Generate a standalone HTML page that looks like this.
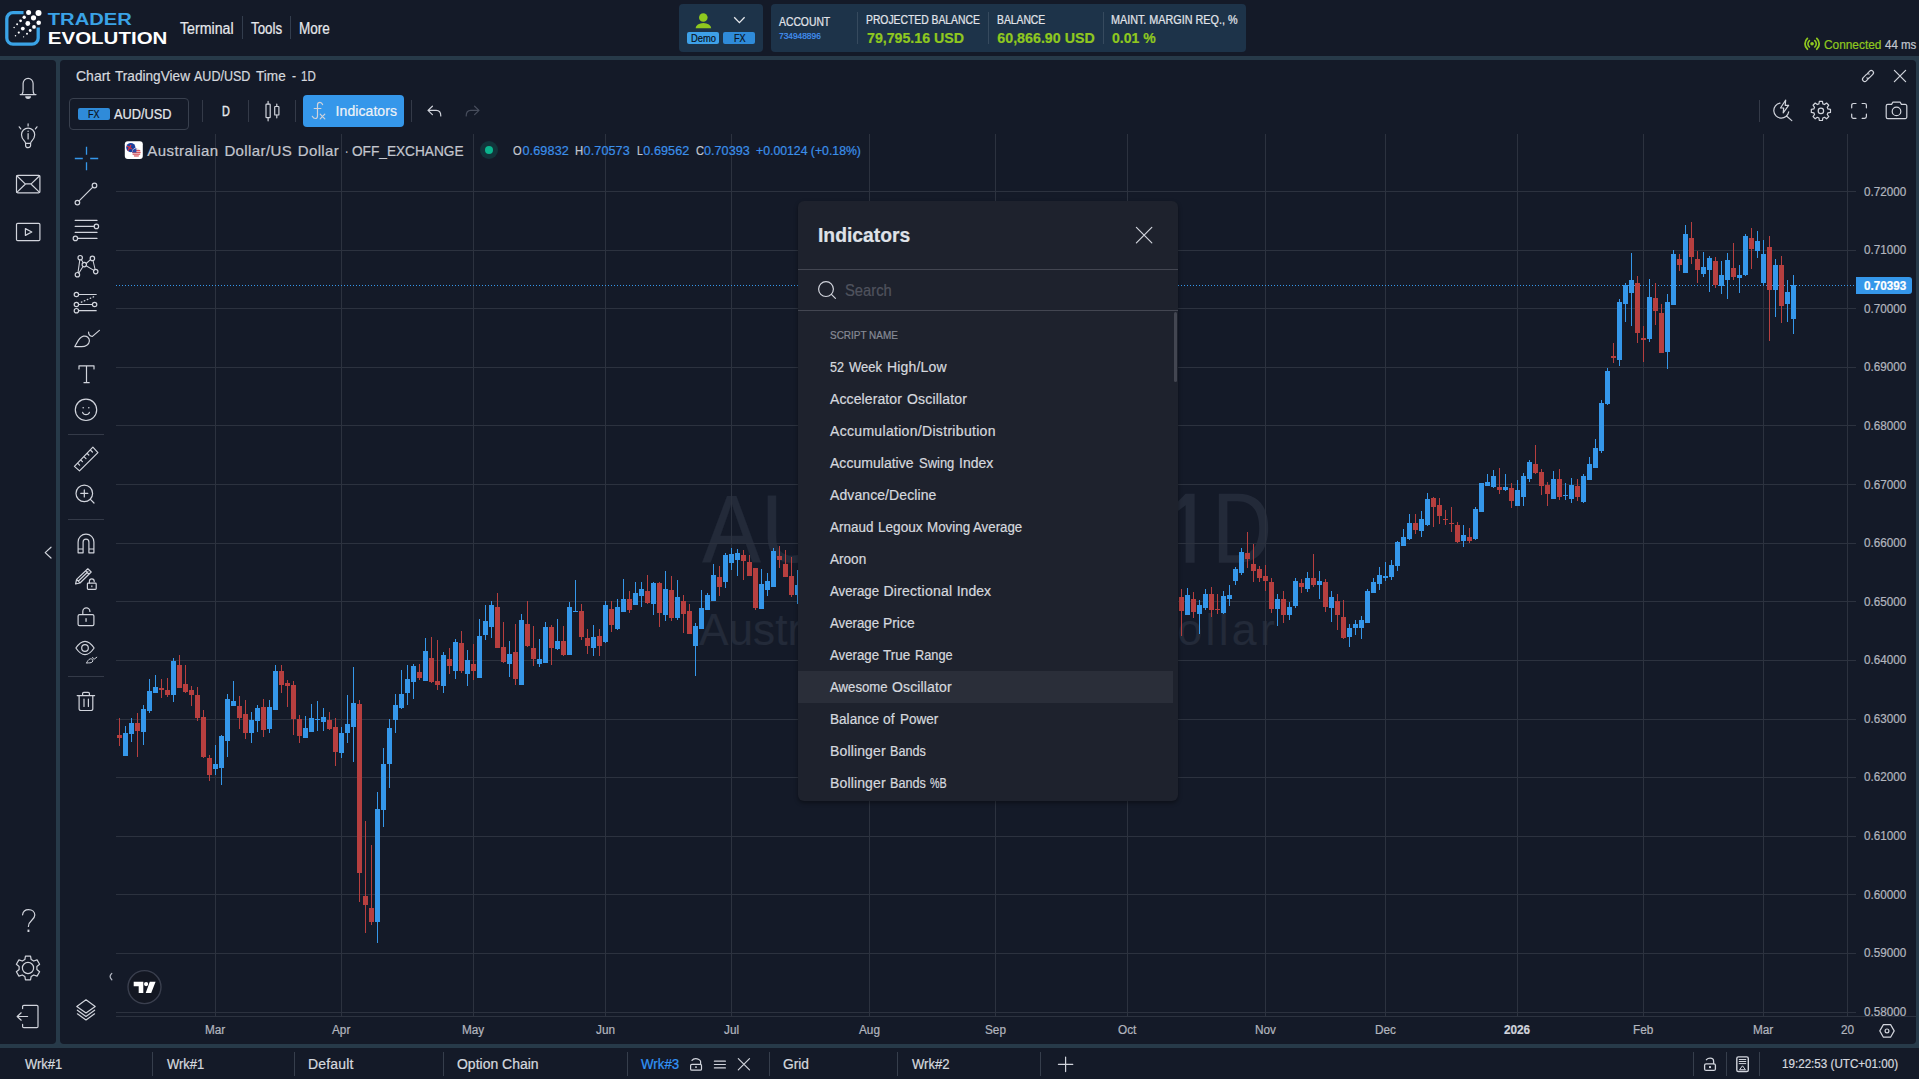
<!DOCTYPE html>
<html><head><meta charset="utf-8"><title>Trader Evolution</title>
<style>
html,body{margin:0;padding:0;background:#141a28;}
body{width:1919px;height:1079px;overflow:hidden;position:relative;font-family:"Liberation Sans",sans-serif;color:#d1d4dc;}
.abs{position:absolute;}
.t{position:absolute;white-space:nowrap;line-height:1;-webkit-text-stroke:0.22px currentColor;}
svg{position:absolute;overflow:visible;}
.ic{fill:none;stroke:#d1d4dc;stroke-width:1.2;stroke-linecap:round;stroke-linejoin:round;}
</style></head><body>
<div class="abs" style="left:0;top:56px;width:1919px;height:992px;background:#273a49"></div>
<div class="abs" style="left:0;top:60px;width:56px;height:984px;background:#141a28;border-radius:0 4px 4px 0"></div>
<div class="abs" style="left:60px;top:60px;width:1856px;height:984px;background:#141a28;border-radius:4px"></div>
<div class="t" style="left:701.5px;top:480.29px;font-size:97px;color:#232a39;transform:scaleX(0.9128);transform-origin:0 0;">AU</div><svg style="left:1170px;top:485px" width="110" height="90" viewBox="1170 485 110 90"><path d="M1185.6 493.7 H1194.6 V562.7 H1185.6 V505.2 L1176 512.6 V503.4 z" fill="#232a39"/><path fill-rule="evenodd" d="M1218.8 493.7 H1238 C1258 493.7 1268.2 506.4 1268.2 528 C1268.2 550 1258 562.7 1238 562.7 H1218.8 z M1227.4 501.2 V555.2 H1237.4 C1252 555.2 1259.2 545.4 1259.2 528 C1259.2 511 1252 501.2 1237.4 501.2 z" fill="#232a39"/></svg><div class="t" style="left:698.8px;top:608.33px;font-size:44.5px;color:#232a39;transform:scaleX(0.9930);transform-origin:0 0;">Austra</div><div class="t" style="left:1142.0px;top:608.33px;font-size:44.5px;color:#232a39;letter-spacing:3.296px;">Dollar</div>
<svg class="abs" style="left:0;top:0" width="1919" height="1079" viewBox="0 0 1919 1079" shape-rendering="crispEdges">
<rect x="116" y="191" width="1740" height="1" fill="#2c323f"/>
<rect x="116" y="250" width="1740" height="1" fill="#2c323f"/>
<rect x="116" y="308" width="1740" height="1" fill="#2c323f"/>
<rect x="116" y="367" width="1740" height="1" fill="#2c323f"/>
<rect x="116" y="425" width="1740" height="1" fill="#2c323f"/>
<rect x="116" y="484" width="1740" height="1" fill="#2c323f"/>
<rect x="116" y="543" width="1740" height="1" fill="#2c323f"/>
<rect x="116" y="601" width="1740" height="1" fill="#2c323f"/>
<rect x="116" y="660" width="1740" height="1" fill="#2c323f"/>
<rect x="116" y="719" width="1740" height="1" fill="#2c323f"/>
<rect x="116" y="777" width="1740" height="1" fill="#2c323f"/>
<rect x="116" y="836" width="1740" height="1" fill="#2c323f"/>
<rect x="116" y="894" width="1740" height="1" fill="#2c323f"/>
<rect x="116" y="953" width="1740" height="1" fill="#2c323f"/>
<rect x="116" y="1012" width="1740" height="1" fill="#2c323f"/>
<rect x="215" y="134" width="1" height="882" fill="#2c323f"/>
<rect x="341" y="134" width="1" height="882" fill="#2c323f"/>
<rect x="473" y="134" width="1" height="882" fill="#2c323f"/>
<rect x="605" y="134" width="1" height="882" fill="#2c323f"/>
<rect x="731" y="134" width="1" height="882" fill="#2c323f"/>
<rect x="869" y="134" width="1" height="882" fill="#2c323f"/>
<rect x="995" y="134" width="1" height="882" fill="#2c323f"/>
<rect x="1127" y="134" width="1" height="882" fill="#2c323f"/>
<rect x="1265" y="134" width="1" height="882" fill="#2c323f"/>
<rect x="1385" y="134" width="1" height="882" fill="#2c323f"/>
<rect x="1517" y="134" width="1" height="882" fill="#2c323f"/>
<rect x="1643" y="134" width="1" height="882" fill="#2c323f"/>
<rect x="1763" y="134" width="1" height="882" fill="#2c323f"/>
<rect x="1847" y="134" width="1" height="882" fill="#2c323f"/>
<rect x="116" y="1016" width="1800" height="1" fill="#2c323f"/>
<line x1="116" y1="285.5" x2="1856" y2="285.5" stroke="#3597ea" stroke-width="1" stroke-dasharray="1 2"/>
<rect x="119" y="718" width="1" height="28" fill="#b63f3f"/>
<rect x="117" y="735" width="5" height="3" fill="#b63f3f"/>
<rect x="125" y="726" width="1" height="30" fill="#3597ea"/>
<rect x="123" y="733" width="5" height="23" fill="#3597ea"/>
<rect x="131" y="718" width="1" height="24" fill="#3597ea"/>
<rect x="129" y="723" width="5" height="11" fill="#3597ea"/>
<rect x="137" y="713" width="1" height="44" fill="#b63f3f"/>
<rect x="135" y="723" width="5" height="8" fill="#b63f3f"/>
<rect x="143" y="705" width="1" height="40" fill="#3597ea"/>
<rect x="141" y="709" width="5" height="23" fill="#3597ea"/>
<rect x="149" y="679" width="1" height="34" fill="#3597ea"/>
<rect x="147" y="691" width="5" height="20" fill="#3597ea"/>
<rect x="155" y="675" width="1" height="18" fill="#3597ea"/>
<rect x="153" y="687" width="5" height="6" fill="#3597ea"/>
<rect x="161" y="679" width="1" height="19" fill="#b63f3f"/>
<rect x="159" y="688" width="5" height="2" fill="#b63f3f"/>
<rect x="167" y="678" width="1" height="19" fill="#b63f3f"/>
<rect x="165" y="690" width="5" height="5" fill="#b63f3f"/>
<rect x="173" y="658" width="1" height="44" fill="#3597ea"/>
<rect x="171" y="661" width="5" height="34" fill="#3597ea"/>
<rect x="179" y="655" width="1" height="33" fill="#b63f3f"/>
<rect x="177" y="665" width="5" height="23" fill="#b63f3f"/>
<rect x="185" y="665" width="1" height="28" fill="#b63f3f"/>
<rect x="183" y="684" width="5" height="8" fill="#b63f3f"/>
<rect x="191" y="686" width="1" height="20" fill="#b63f3f"/>
<rect x="189" y="690" width="5" height="5" fill="#b63f3f"/>
<rect x="197" y="687" width="1" height="34" fill="#b63f3f"/>
<rect x="195" y="695" width="5" height="23" fill="#b63f3f"/>
<rect x="203" y="710" width="1" height="48" fill="#b63f3f"/>
<rect x="201" y="717" width="5" height="40" fill="#b63f3f"/>
<rect x="209" y="755" width="1" height="26" fill="#b63f3f"/>
<rect x="207" y="758" width="5" height="17" fill="#b63f3f"/>
<rect x="215" y="745" width="1" height="30" fill="#3597ea"/>
<rect x="213" y="764" width="5" height="5" fill="#3597ea"/>
<rect x="221" y="735" width="1" height="50" fill="#3597ea"/>
<rect x="219" y="736" width="5" height="32" fill="#3597ea"/>
<rect x="227" y="694" width="1" height="63" fill="#3597ea"/>
<rect x="225" y="699" width="5" height="42" fill="#3597ea"/>
<rect x="233" y="681" width="1" height="25" fill="#3597ea"/>
<rect x="231" y="701" width="5" height="5" fill="#3597ea"/>
<rect x="239" y="696" width="1" height="33" fill="#b63f3f"/>
<rect x="237" y="706" width="5" height="12" fill="#b63f3f"/>
<rect x="245" y="700" width="1" height="39" fill="#b63f3f"/>
<rect x="243" y="714" width="5" height="19" fill="#b63f3f"/>
<rect x="251" y="712" width="1" height="31" fill="#3597ea"/>
<rect x="249" y="720" width="5" height="13" fill="#3597ea"/>
<rect x="257" y="705" width="1" height="27" fill="#3597ea"/>
<rect x="255" y="708" width="5" height="13" fill="#3597ea"/>
<rect x="263" y="699" width="1" height="38" fill="#b63f3f"/>
<rect x="261" y="707" width="5" height="23" fill="#b63f3f"/>
<rect x="269" y="700" width="1" height="33" fill="#3597ea"/>
<rect x="267" y="707" width="5" height="22" fill="#3597ea"/>
<rect x="275" y="665" width="1" height="45" fill="#3597ea"/>
<rect x="273" y="671" width="5" height="39" fill="#3597ea"/>
<rect x="281" y="665" width="1" height="28" fill="#b63f3f"/>
<rect x="279" y="671" width="5" height="14" fill="#b63f3f"/>
<rect x="287" y="680" width="1" height="27" fill="#b63f3f"/>
<rect x="285" y="683" width="5" height="3" fill="#b63f3f"/>
<rect x="293" y="681" width="1" height="54" fill="#b63f3f"/>
<rect x="291" y="685" width="5" height="34" fill="#b63f3f"/>
<rect x="299" y="715" width="1" height="28" fill="#b63f3f"/>
<rect x="297" y="719" width="5" height="17" fill="#b63f3f"/>
<rect x="305" y="716" width="1" height="22" fill="#3597ea"/>
<rect x="303" y="728" width="5" height="10" fill="#3597ea"/>
<rect x="311" y="704" width="1" height="28" fill="#3597ea"/>
<rect x="309" y="718" width="5" height="14" fill="#3597ea"/>
<rect x="317" y="701" width="1" height="30" fill="#3597ea"/>
<rect x="315" y="719" width="5" height="1" fill="#3597ea"/>
<rect x="323" y="708" width="1" height="23" fill="#3597ea"/>
<rect x="321" y="717" width="5" height="5" fill="#3597ea"/>
<rect x="329" y="712" width="1" height="18" fill="#b63f3f"/>
<rect x="327" y="720" width="5" height="9" fill="#b63f3f"/>
<rect x="335" y="718" width="1" height="48" fill="#b63f3f"/>
<rect x="333" y="727" width="5" height="25" fill="#b63f3f"/>
<rect x="341" y="727" width="1" height="31" fill="#3597ea"/>
<rect x="339" y="733" width="5" height="20" fill="#3597ea"/>
<rect x="347" y="695" width="1" height="48" fill="#3597ea"/>
<rect x="345" y="724" width="5" height="9" fill="#3597ea"/>
<rect x="353" y="667" width="1" height="95" fill="#3597ea"/>
<rect x="351" y="703" width="5" height="24" fill="#3597ea"/>
<rect x="359" y="700" width="1" height="202" fill="#b63f3f"/>
<rect x="357" y="704" width="5" height="169" fill="#b63f3f"/>
<rect x="365" y="821" width="1" height="112" fill="#b63f3f"/>
<rect x="363" y="896" width="5" height="9" fill="#b63f3f"/>
<rect x="371" y="845" width="1" height="80" fill="#b63f3f"/>
<rect x="369" y="908" width="5" height="14" fill="#b63f3f"/>
<rect x="377" y="792" width="1" height="151" fill="#3597ea"/>
<rect x="375" y="809" width="5" height="113" fill="#3597ea"/>
<rect x="383" y="748" width="1" height="79" fill="#3597ea"/>
<rect x="381" y="764" width="5" height="46" fill="#3597ea"/>
<rect x="389" y="719" width="1" height="69" fill="#3597ea"/>
<rect x="387" y="728" width="5" height="36" fill="#3597ea"/>
<rect x="395" y="694" width="1" height="39" fill="#3597ea"/>
<rect x="393" y="705" width="5" height="15" fill="#3597ea"/>
<rect x="401" y="670" width="1" height="39" fill="#3597ea"/>
<rect x="399" y="694" width="5" height="14" fill="#3597ea"/>
<rect x="407" y="665" width="1" height="40" fill="#3597ea"/>
<rect x="405" y="679" width="5" height="14" fill="#3597ea"/>
<rect x="413" y="664" width="1" height="35" fill="#3597ea"/>
<rect x="411" y="666" width="5" height="16" fill="#3597ea"/>
<rect x="419" y="664" width="1" height="16" fill="#b63f3f"/>
<rect x="417" y="672" width="5" height="6" fill="#b63f3f"/>
<rect x="425" y="638" width="1" height="43" fill="#3597ea"/>
<rect x="423" y="651" width="5" height="30" fill="#3597ea"/>
<rect x="431" y="637" width="1" height="46" fill="#b63f3f"/>
<rect x="429" y="658" width="5" height="24" fill="#b63f3f"/>
<rect x="437" y="640" width="1" height="50" fill="#b63f3f"/>
<rect x="435" y="681" width="5" height="4" fill="#b63f3f"/>
<rect x="443" y="652" width="1" height="41" fill="#3597ea"/>
<rect x="441" y="655" width="5" height="31" fill="#3597ea"/>
<rect x="449" y="648" width="1" height="26" fill="#b63f3f"/>
<rect x="447" y="659" width="5" height="7" fill="#b63f3f"/>
<rect x="455" y="639" width="1" height="40" fill="#3597ea"/>
<rect x="453" y="642" width="5" height="29" fill="#3597ea"/>
<rect x="461" y="631" width="1" height="42" fill="#b63f3f"/>
<rect x="459" y="643" width="5" height="28" fill="#b63f3f"/>
<rect x="467" y="650" width="1" height="36" fill="#3597ea"/>
<rect x="465" y="660" width="5" height="14" fill="#3597ea"/>
<rect x="473" y="644" width="1" height="36" fill="#b63f3f"/>
<rect x="471" y="664" width="5" height="7" fill="#b63f3f"/>
<rect x="479" y="619" width="1" height="59" fill="#3597ea"/>
<rect x="477" y="636" width="5" height="42" fill="#3597ea"/>
<rect x="485" y="605" width="1" height="35" fill="#3597ea"/>
<rect x="483" y="621" width="5" height="14" fill="#3597ea"/>
<rect x="491" y="601" width="1" height="37" fill="#3597ea"/>
<rect x="489" y="605" width="5" height="22" fill="#3597ea"/>
<rect x="497" y="593" width="1" height="55" fill="#b63f3f"/>
<rect x="495" y="607" width="5" height="41" fill="#b63f3f"/>
<rect x="503" y="622" width="1" height="41" fill="#b63f3f"/>
<rect x="501" y="647" width="5" height="15" fill="#b63f3f"/>
<rect x="509" y="641" width="1" height="36" fill="#3597ea"/>
<rect x="507" y="654" width="5" height="10" fill="#3597ea"/>
<rect x="515" y="624" width="1" height="61" fill="#b63f3f"/>
<rect x="513" y="652" width="5" height="27" fill="#b63f3f"/>
<rect x="521" y="614" width="1" height="71" fill="#3597ea"/>
<rect x="519" y="620" width="5" height="65" fill="#3597ea"/>
<rect x="527" y="601" width="1" height="46" fill="#b63f3f"/>
<rect x="525" y="624" width="5" height="22" fill="#b63f3f"/>
<rect x="533" y="626" width="1" height="40" fill="#b63f3f"/>
<rect x="531" y="648" width="5" height="11" fill="#b63f3f"/>
<rect x="539" y="639" width="1" height="28" fill="#3597ea"/>
<rect x="537" y="659" width="5" height="5" fill="#3597ea"/>
<rect x="545" y="622" width="1" height="41" fill="#3597ea"/>
<rect x="543" y="627" width="5" height="36" fill="#3597ea"/>
<rect x="551" y="625" width="1" height="40" fill="#b63f3f"/>
<rect x="549" y="627" width="5" height="21" fill="#b63f3f"/>
<rect x="557" y="619" width="1" height="31" fill="#3597ea"/>
<rect x="555" y="641" width="5" height="8" fill="#3597ea"/>
<rect x="563" y="626" width="1" height="30" fill="#b63f3f"/>
<rect x="561" y="641" width="5" height="14" fill="#b63f3f"/>
<rect x="569" y="602" width="1" height="53" fill="#3597ea"/>
<rect x="567" y="607" width="5" height="48" fill="#3597ea"/>
<rect x="575" y="580" width="1" height="32" fill="#3597ea"/>
<rect x="573" y="611" width="5" height="1" fill="#3597ea"/>
<rect x="581" y="604" width="1" height="36" fill="#b63f3f"/>
<rect x="579" y="611" width="5" height="26" fill="#b63f3f"/>
<rect x="587" y="629" width="1" height="25" fill="#b63f3f"/>
<rect x="585" y="638" width="5" height="8" fill="#b63f3f"/>
<rect x="593" y="625" width="1" height="31" fill="#3597ea"/>
<rect x="591" y="637" width="5" height="11" fill="#3597ea"/>
<rect x="599" y="629" width="1" height="27" fill="#b63f3f"/>
<rect x="597" y="636" width="5" height="10" fill="#b63f3f"/>
<rect x="605" y="601" width="1" height="42" fill="#3597ea"/>
<rect x="603" y="605" width="5" height="37" fill="#3597ea"/>
<rect x="611" y="601" width="1" height="31" fill="#b63f3f"/>
<rect x="609" y="609" width="5" height="16" fill="#b63f3f"/>
<rect x="617" y="599" width="1" height="31" fill="#3597ea"/>
<rect x="615" y="607" width="5" height="22" fill="#3597ea"/>
<rect x="623" y="579" width="1" height="33" fill="#3597ea"/>
<rect x="621" y="599" width="5" height="13" fill="#3597ea"/>
<rect x="629" y="591" width="1" height="22" fill="#b63f3f"/>
<rect x="627" y="599" width="5" height="11" fill="#b63f3f"/>
<rect x="635" y="582" width="1" height="23" fill="#3597ea"/>
<rect x="633" y="593" width="5" height="12" fill="#3597ea"/>
<rect x="641" y="582" width="1" height="25" fill="#3597ea"/>
<rect x="639" y="589" width="5" height="7" fill="#3597ea"/>
<rect x="647" y="575" width="1" height="29" fill="#b63f3f"/>
<rect x="645" y="591" width="5" height="12" fill="#b63f3f"/>
<rect x="653" y="582" width="1" height="33" fill="#3597ea"/>
<rect x="651" y="583" width="5" height="21" fill="#3597ea"/>
<rect x="659" y="582" width="1" height="45" fill="#b63f3f"/>
<rect x="657" y="583" width="5" height="30" fill="#b63f3f"/>
<rect x="665" y="571" width="1" height="50" fill="#3597ea"/>
<rect x="663" y="589" width="5" height="26" fill="#3597ea"/>
<rect x="671" y="576" width="1" height="45" fill="#b63f3f"/>
<rect x="669" y="590" width="5" height="28" fill="#b63f3f"/>
<rect x="677" y="580" width="1" height="40" fill="#3597ea"/>
<rect x="675" y="597" width="5" height="21" fill="#3597ea"/>
<rect x="683" y="595" width="1" height="38" fill="#b63f3f"/>
<rect x="681" y="601" width="5" height="13" fill="#b63f3f"/>
<rect x="689" y="604" width="1" height="30" fill="#b63f3f"/>
<rect x="687" y="611" width="5" height="23" fill="#b63f3f"/>
<rect x="695" y="623" width="1" height="53" fill="#3597ea"/>
<rect x="693" y="626" width="5" height="20" fill="#3597ea"/>
<rect x="701" y="590" width="1" height="39" fill="#3597ea"/>
<rect x="699" y="608" width="5" height="21" fill="#3597ea"/>
<rect x="707" y="593" width="1" height="17" fill="#3597ea"/>
<rect x="705" y="595" width="5" height="15" fill="#3597ea"/>
<rect x="713" y="564" width="1" height="37" fill="#3597ea"/>
<rect x="711" y="575" width="5" height="26" fill="#3597ea"/>
<rect x="719" y="566" width="1" height="30" fill="#b63f3f"/>
<rect x="717" y="577" width="5" height="10" fill="#b63f3f"/>
<rect x="725" y="553" width="1" height="35" fill="#3597ea"/>
<rect x="723" y="555" width="5" height="27" fill="#3597ea"/>
<rect x="731" y="548" width="1" height="22" fill="#3597ea"/>
<rect x="729" y="554" width="5" height="9" fill="#3597ea"/>
<rect x="737" y="549" width="1" height="27" fill="#3597ea"/>
<rect x="735" y="553" width="5" height="7" fill="#3597ea"/>
<rect x="743" y="550" width="1" height="30" fill="#b63f3f"/>
<rect x="741" y="555" width="5" height="6" fill="#b63f3f"/>
<rect x="749" y="555" width="1" height="21" fill="#b63f3f"/>
<rect x="747" y="562" width="5" height="14" fill="#b63f3f"/>
<rect x="755" y="568" width="1" height="42" fill="#b63f3f"/>
<rect x="753" y="568" width="5" height="40" fill="#b63f3f"/>
<rect x="761" y="569" width="1" height="40" fill="#3597ea"/>
<rect x="759" y="584" width="5" height="25" fill="#3597ea"/>
<rect x="767" y="573" width="1" height="23" fill="#3597ea"/>
<rect x="765" y="581" width="5" height="9" fill="#3597ea"/>
<rect x="773" y="548" width="1" height="39" fill="#3597ea"/>
<rect x="771" y="551" width="5" height="36" fill="#3597ea"/>
<rect x="779" y="546" width="1" height="22" fill="#b63f3f"/>
<rect x="777" y="556" width="5" height="4" fill="#b63f3f"/>
<rect x="785" y="550" width="1" height="27" fill="#b63f3f"/>
<rect x="783" y="564" width="5" height="13" fill="#b63f3f"/>
<rect x="791" y="557" width="1" height="40" fill="#b63f3f"/>
<rect x="789" y="576" width="5" height="19" fill="#b63f3f"/>
<rect x="797" y="570" width="1" height="34" fill="#3597ea"/>
<rect x="795" y="585" width="5" height="10" fill="#3597ea"/>
<rect x="1181" y="589" width="1" height="47" fill="#b63f3f"/>
<rect x="1179" y="597" width="5" height="14" fill="#b63f3f"/>
<rect x="1187" y="588" width="1" height="27" fill="#3597ea"/>
<rect x="1185" y="595" width="5" height="20" fill="#3597ea"/>
<rect x="1193" y="592" width="1" height="26" fill="#b63f3f"/>
<rect x="1191" y="599" width="5" height="13" fill="#b63f3f"/>
<rect x="1199" y="600" width="1" height="34" fill="#3597ea"/>
<rect x="1197" y="605" width="5" height="9" fill="#3597ea"/>
<rect x="1205" y="589" width="1" height="21" fill="#3597ea"/>
<rect x="1203" y="594" width="5" height="14" fill="#3597ea"/>
<rect x="1211" y="587" width="1" height="30" fill="#b63f3f"/>
<rect x="1209" y="594" width="5" height="16" fill="#b63f3f"/>
<rect x="1217" y="594" width="1" height="20" fill="#b63f3f"/>
<rect x="1215" y="609" width="5" height="1" fill="#b63f3f"/>
<rect x="1223" y="591" width="1" height="23" fill="#3597ea"/>
<rect x="1221" y="596" width="5" height="17" fill="#3597ea"/>
<rect x="1229" y="585" width="1" height="21" fill="#3597ea"/>
<rect x="1227" y="595" width="5" height="4" fill="#3597ea"/>
<rect x="1235" y="567" width="1" height="18" fill="#3597ea"/>
<rect x="1233" y="569" width="5" height="12" fill="#3597ea"/>
<rect x="1241" y="548" width="1" height="27" fill="#3597ea"/>
<rect x="1239" y="552" width="5" height="21" fill="#3597ea"/>
<rect x="1247" y="532" width="1" height="36" fill="#b63f3f"/>
<rect x="1245" y="553" width="5" height="6" fill="#b63f3f"/>
<rect x="1253" y="544" width="1" height="38" fill="#b63f3f"/>
<rect x="1251" y="564" width="5" height="7" fill="#b63f3f"/>
<rect x="1259" y="566" width="1" height="16" fill="#b63f3f"/>
<rect x="1257" y="569" width="5" height="9" fill="#b63f3f"/>
<rect x="1265" y="565" width="1" height="26" fill="#b63f3f"/>
<rect x="1263" y="576" width="5" height="5" fill="#b63f3f"/>
<rect x="1271" y="578" width="1" height="35" fill="#b63f3f"/>
<rect x="1269" y="582" width="5" height="27" fill="#b63f3f"/>
<rect x="1277" y="594" width="1" height="32" fill="#3597ea"/>
<rect x="1275" y="599" width="5" height="10" fill="#3597ea"/>
<rect x="1283" y="591" width="1" height="32" fill="#b63f3f"/>
<rect x="1281" y="599" width="5" height="16" fill="#b63f3f"/>
<rect x="1289" y="602" width="1" height="18" fill="#3597ea"/>
<rect x="1287" y="607" width="5" height="8" fill="#3597ea"/>
<rect x="1295" y="578" width="1" height="30" fill="#3597ea"/>
<rect x="1293" y="581" width="5" height="25" fill="#3597ea"/>
<rect x="1301" y="579" width="1" height="14" fill="#b63f3f"/>
<rect x="1299" y="583" width="5" height="4" fill="#b63f3f"/>
<rect x="1307" y="572" width="1" height="20" fill="#3597ea"/>
<rect x="1305" y="578" width="5" height="11" fill="#3597ea"/>
<rect x="1313" y="554" width="1" height="33" fill="#b63f3f"/>
<rect x="1311" y="578" width="5" height="7" fill="#b63f3f"/>
<rect x="1319" y="571" width="1" height="28" fill="#3597ea"/>
<rect x="1317" y="581" width="5" height="4" fill="#3597ea"/>
<rect x="1325" y="579" width="1" height="33" fill="#b63f3f"/>
<rect x="1323" y="582" width="5" height="25" fill="#b63f3f"/>
<rect x="1331" y="591" width="1" height="31" fill="#3597ea"/>
<rect x="1329" y="597" width="5" height="11" fill="#3597ea"/>
<rect x="1337" y="594" width="1" height="36" fill="#b63f3f"/>
<rect x="1335" y="601" width="5" height="14" fill="#b63f3f"/>
<rect x="1343" y="600" width="1" height="39" fill="#b63f3f"/>
<rect x="1341" y="617" width="5" height="21" fill="#b63f3f"/>
<rect x="1349" y="624" width="1" height="23" fill="#3597ea"/>
<rect x="1347" y="628" width="5" height="9" fill="#3597ea"/>
<rect x="1355" y="620" width="1" height="15" fill="#3597ea"/>
<rect x="1353" y="624" width="5" height="4" fill="#3597ea"/>
<rect x="1361" y="616" width="1" height="23" fill="#3597ea"/>
<rect x="1359" y="620" width="5" height="8" fill="#3597ea"/>
<rect x="1367" y="589" width="1" height="34" fill="#3597ea"/>
<rect x="1365" y="591" width="5" height="32" fill="#3597ea"/>
<rect x="1373" y="578" width="1" height="15" fill="#3597ea"/>
<rect x="1371" y="582" width="5" height="11" fill="#3597ea"/>
<rect x="1379" y="567" width="1" height="23" fill="#3597ea"/>
<rect x="1377" y="575" width="5" height="9" fill="#3597ea"/>
<rect x="1385" y="562" width="1" height="19" fill="#3597ea"/>
<rect x="1383" y="576" width="5" height="2" fill="#3597ea"/>
<rect x="1391" y="560" width="1" height="20" fill="#3597ea"/>
<rect x="1389" y="565" width="5" height="12" fill="#3597ea"/>
<rect x="1397" y="541" width="1" height="30" fill="#3597ea"/>
<rect x="1395" y="542" width="5" height="24" fill="#3597ea"/>
<rect x="1403" y="529" width="1" height="17" fill="#3597ea"/>
<rect x="1401" y="537" width="5" height="9" fill="#3597ea"/>
<rect x="1409" y="514" width="1" height="26" fill="#3597ea"/>
<rect x="1407" y="523" width="5" height="16" fill="#3597ea"/>
<rect x="1415" y="514" width="1" height="20" fill="#b63f3f"/>
<rect x="1413" y="523" width="5" height="7" fill="#b63f3f"/>
<rect x="1421" y="511" width="1" height="26" fill="#3597ea"/>
<rect x="1419" y="519" width="5" height="12" fill="#3597ea"/>
<rect x="1427" y="493" width="1" height="33" fill="#3597ea"/>
<rect x="1425" y="499" width="5" height="26" fill="#3597ea"/>
<rect x="1433" y="497" width="1" height="30" fill="#b63f3f"/>
<rect x="1431" y="498" width="5" height="9" fill="#b63f3f"/>
<rect x="1439" y="498" width="1" height="26" fill="#b63f3f"/>
<rect x="1437" y="505" width="5" height="11" fill="#b63f3f"/>
<rect x="1445" y="510" width="1" height="15" fill="#b63f3f"/>
<rect x="1443" y="519" width="5" height="1" fill="#b63f3f"/>
<rect x="1451" y="507" width="1" height="25" fill="#b63f3f"/>
<rect x="1449" y="523" width="5" height="1" fill="#b63f3f"/>
<rect x="1457" y="522" width="1" height="21" fill="#b63f3f"/>
<rect x="1455" y="525" width="5" height="17" fill="#b63f3f"/>
<rect x="1463" y="525" width="1" height="22" fill="#3597ea"/>
<rect x="1461" y="535" width="5" height="6" fill="#3597ea"/>
<rect x="1469" y="528" width="1" height="15" fill="#b63f3f"/>
<rect x="1467" y="537" width="5" height="4" fill="#b63f3f"/>
<rect x="1475" y="507" width="1" height="33" fill="#3597ea"/>
<rect x="1473" y="509" width="5" height="30" fill="#3597ea"/>
<rect x="1481" y="483" width="1" height="29" fill="#3597ea"/>
<rect x="1479" y="483" width="5" height="29" fill="#3597ea"/>
<rect x="1487" y="474" width="1" height="12" fill="#3597ea"/>
<rect x="1485" y="482" width="5" height="4" fill="#3597ea"/>
<rect x="1493" y="470" width="1" height="18" fill="#3597ea"/>
<rect x="1491" y="476" width="5" height="11" fill="#3597ea"/>
<rect x="1499" y="468" width="1" height="26" fill="#b63f3f"/>
<rect x="1497" y="487" width="5" height="3" fill="#b63f3f"/>
<rect x="1505" y="474" width="1" height="17" fill="#3597ea"/>
<rect x="1503" y="487" width="5" height="3" fill="#3597ea"/>
<rect x="1511" y="483" width="1" height="25" fill="#b63f3f"/>
<rect x="1509" y="488" width="5" height="13" fill="#b63f3f"/>
<rect x="1517" y="480" width="1" height="26" fill="#3597ea"/>
<rect x="1515" y="490" width="5" height="16" fill="#3597ea"/>
<rect x="1523" y="473" width="1" height="33" fill="#3597ea"/>
<rect x="1521" y="476" width="5" height="21" fill="#3597ea"/>
<rect x="1529" y="460" width="1" height="22" fill="#3597ea"/>
<rect x="1527" y="462" width="5" height="17" fill="#3597ea"/>
<rect x="1535" y="445" width="1" height="29" fill="#b63f3f"/>
<rect x="1533" y="464" width="5" height="9" fill="#b63f3f"/>
<rect x="1541" y="469" width="1" height="26" fill="#b63f3f"/>
<rect x="1539" y="472" width="5" height="14" fill="#b63f3f"/>
<rect x="1547" y="482" width="1" height="24" fill="#b63f3f"/>
<rect x="1545" y="485" width="5" height="9" fill="#b63f3f"/>
<rect x="1553" y="471" width="1" height="28" fill="#3597ea"/>
<rect x="1551" y="479" width="5" height="20" fill="#3597ea"/>
<rect x="1559" y="469" width="1" height="31" fill="#b63f3f"/>
<rect x="1557" y="479" width="5" height="18" fill="#b63f3f"/>
<rect x="1565" y="483" width="1" height="17" fill="#3597ea"/>
<rect x="1563" y="495" width="5" height="1" fill="#3597ea"/>
<rect x="1571" y="478" width="1" height="25" fill="#3597ea"/>
<rect x="1569" y="485" width="5" height="14" fill="#3597ea"/>
<rect x="1577" y="479" width="1" height="22" fill="#b63f3f"/>
<rect x="1575" y="486" width="5" height="11" fill="#b63f3f"/>
<rect x="1583" y="474" width="1" height="29" fill="#3597ea"/>
<rect x="1581" y="476" width="5" height="26" fill="#3597ea"/>
<rect x="1589" y="457" width="1" height="23" fill="#3597ea"/>
<rect x="1587" y="464" width="5" height="16" fill="#3597ea"/>
<rect x="1595" y="439" width="1" height="29" fill="#3597ea"/>
<rect x="1593" y="448" width="5" height="20" fill="#3597ea"/>
<rect x="1601" y="400" width="1" height="53" fill="#3597ea"/>
<rect x="1599" y="403" width="5" height="48" fill="#3597ea"/>
<rect x="1607" y="368" width="1" height="37" fill="#3597ea"/>
<rect x="1605" y="371" width="5" height="33" fill="#3597ea"/>
<rect x="1613" y="343" width="1" height="20" fill="#b63f3f"/>
<rect x="1611" y="356" width="5" height="2" fill="#b63f3f"/>
<rect x="1619" y="299" width="1" height="67" fill="#3597ea"/>
<rect x="1617" y="302" width="5" height="58" fill="#3597ea"/>
<rect x="1625" y="283" width="1" height="39" fill="#3597ea"/>
<rect x="1623" y="285" width="5" height="19" fill="#3597ea"/>
<rect x="1631" y="253" width="1" height="73" fill="#3597ea"/>
<rect x="1629" y="280" width="5" height="13" fill="#3597ea"/>
<rect x="1637" y="276" width="1" height="67" fill="#b63f3f"/>
<rect x="1635" y="283" width="5" height="50" fill="#b63f3f"/>
<rect x="1643" y="326" width="1" height="36" fill="#b63f3f"/>
<rect x="1641" y="338" width="5" height="2" fill="#b63f3f"/>
<rect x="1649" y="279" width="1" height="63" fill="#3597ea"/>
<rect x="1647" y="297" width="5" height="42" fill="#3597ea"/>
<rect x="1655" y="283" width="1" height="42" fill="#b63f3f"/>
<rect x="1653" y="298" width="5" height="13" fill="#b63f3f"/>
<rect x="1661" y="304" width="1" height="49" fill="#b63f3f"/>
<rect x="1659" y="313" width="5" height="40" fill="#b63f3f"/>
<rect x="1667" y="294" width="1" height="75" fill="#3597ea"/>
<rect x="1665" y="302" width="5" height="50" fill="#3597ea"/>
<rect x="1673" y="250" width="1" height="55" fill="#3597ea"/>
<rect x="1671" y="254" width="5" height="51" fill="#3597ea"/>
<rect x="1679" y="254" width="1" height="17" fill="#b63f3f"/>
<rect x="1677" y="259" width="5" height="6" fill="#b63f3f"/>
<rect x="1685" y="225" width="1" height="48" fill="#3597ea"/>
<rect x="1683" y="234" width="5" height="39" fill="#3597ea"/>
<rect x="1691" y="222" width="1" height="42" fill="#b63f3f"/>
<rect x="1689" y="238" width="5" height="19" fill="#b63f3f"/>
<rect x="1697" y="251" width="1" height="32" fill="#b63f3f"/>
<rect x="1695" y="259" width="5" height="11" fill="#b63f3f"/>
<rect x="1703" y="252" width="1" height="25" fill="#3597ea"/>
<rect x="1701" y="267" width="5" height="7" fill="#3597ea"/>
<rect x="1709" y="256" width="1" height="36" fill="#3597ea"/>
<rect x="1707" y="258" width="5" height="12" fill="#3597ea"/>
<rect x="1715" y="257" width="1" height="31" fill="#b63f3f"/>
<rect x="1713" y="261" width="5" height="24" fill="#b63f3f"/>
<rect x="1721" y="261" width="1" height="33" fill="#3597ea"/>
<rect x="1719" y="275" width="5" height="11" fill="#3597ea"/>
<rect x="1727" y="253" width="1" height="46" fill="#3597ea"/>
<rect x="1725" y="260" width="5" height="20" fill="#3597ea"/>
<rect x="1733" y="243" width="1" height="37" fill="#b63f3f"/>
<rect x="1731" y="268" width="5" height="9" fill="#b63f3f"/>
<rect x="1739" y="265" width="1" height="28" fill="#3597ea"/>
<rect x="1737" y="275" width="5" height="3" fill="#3597ea"/>
<rect x="1745" y="234" width="1" height="42" fill="#3597ea"/>
<rect x="1743" y="236" width="5" height="39" fill="#3597ea"/>
<rect x="1751" y="228" width="1" height="41" fill="#b63f3f"/>
<rect x="1749" y="238" width="5" height="11" fill="#b63f3f"/>
<rect x="1757" y="231" width="1" height="27" fill="#3597ea"/>
<rect x="1755" y="241" width="5" height="10" fill="#3597ea"/>
<rect x="1763" y="240" width="1" height="46" fill="#3597ea"/>
<rect x="1761" y="254" width="5" height="29" fill="#3597ea"/>
<rect x="1769" y="236" width="1" height="105" fill="#b63f3f"/>
<rect x="1767" y="247" width="5" height="43" fill="#b63f3f"/>
<rect x="1775" y="259" width="1" height="58" fill="#3597ea"/>
<rect x="1773" y="265" width="5" height="25" fill="#3597ea"/>
<rect x="1781" y="256" width="1" height="67" fill="#b63f3f"/>
<rect x="1779" y="265" width="5" height="41" fill="#b63f3f"/>
<rect x="1787" y="280" width="1" height="42" fill="#3597ea"/>
<rect x="1785" y="292" width="5" height="12" fill="#3597ea"/>
<rect x="1793" y="275" width="1" height="59" fill="#3597ea"/>
<rect x="1791" y="285" width="5" height="34" fill="#3597ea"/>
</svg>
<svg style="left:0;top:0" width="180" height="56" viewBox="0 0 180 56">
<path d="M23.5 12.7 H13 a6.2 6.2 0 0 0 -6.2 6.2 V38 a6.2 6.2 0 0 0 6.2 6.2 H32 a6.2 6.2 0 0 0 6.2 -6.2 V27.5" fill="none" stroke="#3aa3e6" stroke-width="3.3"/>
<circle cx="28.6" cy="12.5" r="2.5" fill="#fff"/><circle cx="38.5" cy="12.9" r="3" fill="#fff"/><circle cx="24.2" cy="17.2" r="1.7" fill="#fff"/><circle cx="33.5" cy="17.8" r="2.6" fill="#fff"/><circle cx="20.6" cy="20.8" r="1.4" fill="#fff"/><circle cx="27.8" cy="23.5" r="2.4" fill="#fff"/><circle cx="38.7" cy="22.8" r="2.3" fill="#fff"/><circle cx="17.1" cy="24.2" r="1.0" fill="#fff"/><circle cx="14.1" cy="27.4" r="0.75" fill="#fff"/><circle cx="22.8" cy="28.6" r="1.9" fill="#fff"/><circle cx="34" cy="26.9" r="1.9" fill="#fff"/><circle cx="30.2" cy="30.5" r="1.4" fill="#fff"/><circle cx="18.8" cy="32.6" r="1.1" fill="#fff"/><circle cx="27" cy="33.8" r="1.0" fill="#fff"/><circle cx="15.5" cy="35.8" r="0.75" fill="#fff"/><circle cx="23.6" cy="36.8" r="0.65" fill="#fff"/>
<text x="47.8" y="25.1" font-size="15.6" font-weight="bold" fill="#3aa3e6" textLength="84" lengthAdjust="spacingAndGlyphs">TRADER</text>
<text x="47.8" y="43.5" font-size="15.8" font-weight="bold" fill="#fff" textLength="119.6" lengthAdjust="spacingAndGlyphs">EVOLUTION</text>
</svg>
<div class="t" style="left:180.3px;top:20.99px;font-size:15.6px;color:#e6e8ec;transform:scaleX(0.9093);transform-origin:0 0;">Terminal</div>
<div class="t" style="left:251.0px;top:20.99px;font-size:15.6px;color:#e6e8ec;transform:scaleX(0.8568);transform-origin:0 0;">Tools</div>
<div class="t" style="left:299.0px;top:20.99px;font-size:15.6px;color:#e6e8ec;transform:scaleX(0.8695);transform-origin:0 0;">More</div>
<div class="abs" style="left:242px;top:16px;width:1px;height:23px;background:#333d4d"></div>
<div class="abs" style="left:290px;top:16px;width:1px;height:23px;background:#333d4d"></div>
<div class="abs" style="left:679px;top:4px;width:84px;height:48px;background:#1d3349;border-radius:4px"></div>
<div class="abs" style="left:771px;top:4px;width:475px;height:48px;background:#1d3349;border-radius:4px"></div>
<svg style="left:679px;top:4px" width="84" height="48" viewBox="679 4 84 48">
<circle cx="703.3" cy="17.5" r="4.3" fill="#8fc81f"/>
<path d="M695.6 28.2 a7.8 5.2 0 0 1 15.6 0 z" fill="#8fc81f"/>
<path d="M734.2 17.2 l5.2 5.4 l5.2 -5.4" fill="none" stroke="#e6e8ec" stroke-width="1.3"/>
</svg>
<div class="abs" style="left:687px;top:32px;width:32px;height:12px;background:#3ea1e8;border-radius:2px"></div>
<div class="abs" style="left:723px;top:32px;width:32px;height:12px;background:#2f8bd9;border-radius:2px"></div>
<div class="t" style="left:690.5px;top:32.79px;font-size:11px;color:#0b1220;transform:scaleX(0.8521);transform-origin:0 0;">Demo</div>
<div class="t" style="left:733.6px;top:32.95px;font-size:11.4px;color:#0b1220;transform:scaleX(0.7963);transform-origin:0 0;">FX</div>
<div class="t" style="left:779.4px;top:15.64px;font-size:12px;color:#e1e4ea;transform:scaleX(0.8629);transform-origin:0 0;">ACCOUNT</div>
<div class="t" style="left:779.4px;top:31.92px;font-size:8.6px;color:#4493f5;transform:scaleX(0.9712);transform-origin:0 0;">734948896</div>
<div class="abs" style="left:857px;top:12px;width:1px;height:32px;background:#364a5e"></div>
<div class="abs" style="left:988px;top:12px;width:1px;height:32px;background:#364a5e"></div>
<div class="abs" style="left:1103px;top:12px;width:1px;height:32px;background:#364a5e"></div>
<div class="t" style="left:866.4px;top:13.64px;font-size:12px;color:#e1e4ea;transform:scaleX(0.8619);transform-origin:0 0;">PROJECTED BALANCE</div>
<div class="t" style="left:867.0px;top:30.98px;font-size:14.2px;color:#8fc81f;font-weight:bold;transform:scaleX(0.9990);transform-origin:0 0;">79,795.16 USD</div>
<div class="t" style="left:997.0px;top:13.64px;font-size:12px;color:#e1e4ea;transform:scaleX(0.8604);transform-origin:0 0;">BALANCE</div>
<div class="t" style="left:997.3px;top:30.98px;font-size:14.2px;color:#8fc81f;font-weight:bold;letter-spacing:0.031px;">60,866.90 USD</div>
<div class="t" style="left:1111.3px;top:13.64px;font-size:12px;color:#e1e4ea;transform:scaleX(0.8992);transform-origin:0 0;">MAINT. MARGIN REQ., %</div>
<div class="t" style="left:1111.5px;top:30.98px;font-size:14.2px;color:#8fc81f;font-weight:bold;transform:scaleX(0.9885);transform-origin:0 0;">0.01 %</div>
<svg style="left:1802px;top:36px" width="20" height="16" viewBox="1802 36 20 16">
<circle cx="1812.1" cy="43.8" r="1.8" fill="#8fc81f"/>
<path d="M1809.4 40.6 A4.2 4.2 0 0 0 1809.4 47 M1814.8 40.6 A4.2 4.2 0 0 1 1814.8 47" fill="none" stroke="#8fc81f" stroke-width="1.6" stroke-linecap="round"/>
<path d="M1807.4 38.4 A7.3 7.3 0 0 0 1807.4 49.2 M1816.8 38.4 A7.3 7.3 0 0 1 1816.8 49.2" fill="none" stroke="#8fc81f" stroke-width="1.8" stroke-linecap="round"/>
</svg>
<div class="t" style="left:1823.8px;top:38.20px;font-size:13px;color:#8fc81f;transform:scaleX(0.9129);transform-origin:0 0;">Connected</div>
<div class="t" style="left:1885.2px;top:38.20px;font-size:13px;color:#c3c7cf;transform:scaleX(0.8842);transform-origin:0 0;">44 ms</div>
<svg style="left:0;top:60px" width="56" height="984" viewBox="0 60 56 984" class="ic">
<!-- bell -->
<path d="M20.2 94.6 H36 M21.9 94.4 C23.3 93 23.1 91 23.1 89 V83.6 a5 5.3 0 0 1 10 0 V89 C33.1 91 32.9 93 34.3 94.4"/>
<path d="M25.2 96.3 H31 a2.9 2.6 0 0 1 -5.8 0 z" fill="#d1d4dc" stroke="none"/>
<!-- bulb -->
<path d="M25.6 143.4 C25.6 141 21.5 139.8 21.5 134.7 a6.6 6.6 0 0 1 13.2 0 C34.7 139.8 30.6 141 30.6 143.4 z M25.6 143.4 V145.4 a2.5 2.2 0 0 0 5 0 V143.4 M28.1 123.8 V126 M19.2 126.8 L20.8 128.9 M37 126.8 L35.4 128.9 M28.1 133.6 V139"/>
<circle cx="28.1" cy="131.2" r="0.7" fill="#d1d4dc" stroke="none"/>
<!-- mail -->
<rect x="16.5" y="175.4" width="23.4" height="17.4" rx="1.2"/>
<path d="M16.8 175.8 L25.2 183.9 H31.2 L39.6 175.8 M16.8 192.4 L25.2 184.3 M39.6 192.4 L31.2 184.3"/>
<!-- play -->
<rect x="16.5" y="223.4" width="23.4" height="17.2" rx="1.2"/>
<path d="M25.4 228.6 L31.8 232 L25.4 235.4 z"/>
<!-- chevron -->
<path d="M51 547.2 L45.2 552.6 L51 558"/>
<!-- ? -->
<path d="M22.6 914.8 C23 911.2 25.6 909.6 28.6 909.6 C32.2 909.6 34.8 911.8 34.8 915 C34.8 920.2 28.4 920.4 28.4 926.4"/>
<rect x="27.5" y="929.6" width="1.9" height="2.4" fill="#d1d4dc" stroke="none"/>
<!-- gear -->
<circle cx="28" cy="968" r="5.6"/>
<path d="M24.83 959.58 L25.46 956.07 L30.54 956.07 L31.17 959.58 L33.71 961.04 L37.06 959.83 L39.61 964.24 L36.88 966.53 L36.88 969.47 L39.61 971.76 L37.06 976.17 L33.71 974.96 L31.17 976.42 L30.54 979.93 L25.46 979.93 L24.83 976.42 L22.29 974.96 L18.94 976.17 L16.39 971.76 L19.12 969.47 L19.12 966.53 L16.39 964.24 L18.94 959.83 L22.29 961.04 z"/>
<!-- logout -->
<path d="M22.6 1008.6 V1006.6 a1.2 1.2 0 0 1 1.2 -1.2 H36.8 a1.2 1.2 0 0 1 1.2 1.2 V1026.4 a1.2 1.2 0 0 1 -1.2 1.2 H23.8 a1.2 1.2 0 0 1 -1.2 -1.2 V1024.4 M27.6 1016.5 H17.4 M21.2 1012.8 L17.2 1016.5 L21.2 1020.2"/>
</svg>
<div class="t" style="left:75.8px;top:69.10px;font-size:14.3px;color:#d5d8de;transform:scaleX(0.9781);transform-origin:0 0;">Chart</div>
<div class="t" style="left:115.0px;top:69.10px;font-size:14.3px;color:#d5d8de;transform:scaleX(0.9531);transform-origin:0 0;">TradingView</div>
<div class="t" style="left:194.3px;top:69.10px;font-size:14.3px;color:#d5d8de;transform:scaleX(0.8763);transform-origin:0 0;">AUD/USD</div>
<div class="t" style="left:256.0px;top:69.10px;font-size:14.3px;color:#d5d8de;transform:scaleX(0.9505);transform-origin:0 0;">Time</div>
<div class="t" style="left:292.0px;top:69.10px;font-size:14.3px;color:#d5d8de;transform:scaleX(0.8401);transform-origin:0 0;">-</div>
<div class="t" style="left:301.0px;top:69.10px;font-size:14.3px;color:#d5d8de;transform:scaleX(0.8042);transform-origin:0 0;">1D</div>
<svg style="left:1855px;top:64px" width="60" height="24" viewBox="1855 64 60 24" class="ic">
<g transform="rotate(-45 1868 76)"><path d="M1866.4 78.2 H1863.4 a2.2 2.2 0 0 1 0 -4.4 H1868 a2.2 2.2 0 0 1 2.1 1.6 M1869.6 73.8 H1872.6 a2.2 2.2 0 0 1 0 4.4 H1868 a2.2 2.2 0 0 1 -2.1 -1.6"/></g>
<path d="M1894.4 70.4 L1905.6 81.6 M1905.6 70.4 L1894.4 81.6" stroke-width="1.25"/>
</svg>
<div class="abs" style="left:69px;top:98px;width:118px;height:30px;border:1px solid #39404e;border-radius:4px"></div>
<div class="abs" style="left:78px;top:108px;width:32px;height:12px;background:#2f8bd9;border-radius:2px"></div>
<div class="t" style="left:88.4px;top:109.09px;font-size:11px;color:#0b1220;transform:scaleX(0.8110);transform-origin:0 0;">FX</div>
<div class="t" style="left:114.0px;top:107.20px;font-size:14.3px;color:#e6e8ec;transform:scaleX(0.8934);transform-origin:0 0;">AUD/USD</div>
<div class="abs" style="left:202px;top:100px;width:1px;height:22px;background:#343a48"></div>
<div class="abs" style="left:248px;top:100px;width:1px;height:22px;background:#343a48"></div>
<div class="abs" style="left:295px;top:100px;width:1px;height:22px;background:#343a48"></div>
<div class="abs" style="left:411px;top:100px;width:1px;height:22px;background:#343a48"></div>
<div class="t" style="left:221.8px;top:104.05px;font-size:14px;color:#e6e8ec;transform:scaleX(0.7715);transform-origin:0 0;-webkit-text-stroke:0.45px currentColor;">D</div>
<svg style="left:262px;top:98px" width="22" height="26" viewBox="262 98 22 26" class="ic" stroke="#e6e9ef" stroke-width="1.15">
<rect x="266" y="104.1" width="4.2" height="13.6" rx="0.6"/><path d="M268.1 101.4 V104 M268.1 117.8 V120.8"/>
<rect x="274.7" y="106.5" width="4.2" height="8.5" rx="0.6"/><path d="M276.8 104 V106.4 M276.8 115.2 V117.8"/>
</svg>
<div class="abs" style="left:303px;top:95px;width:101px;height:32px;background:#3597ea;border-radius:4px"></div>
<svg style="left:308px;top:98px" width="22" height="26" viewBox="308 98 22 26" class="ic" stroke="#e8edf4" stroke-width="1.15">
<path d="M312.3 116.3 C313.2 118 314.3 118.5 315.4 118.5 C316.8 118.5 317.5 117.4 317.5 116 V105 C317.5 103.4 318.6 102.3 320 102.3 C321.2 102.3 322 103.2 322.6 104.6 M314.2 108.5 H320.9 M320.2 114.2 L324.8 118.8 M324.8 114.2 L320.2 118.8"/>
</svg>
<div class="t" style="left:335.6px;top:104.05px;font-size:14px;color:#eef2f7;letter-spacing:0.071px;">Indicators</div>
<svg style="left:424px;top:100px" width="60" height="22" viewBox="424 100 60 22" class="ic" stroke="#e6e9ef" stroke-width="1.2">
<path d="M432.4 106.2 L428 110.4 L432.4 114.6 M428.2 110.4 H436.2 C439 110.4 440.8 112.4 440.8 116"/>
<path d="M474.6 106.2 L479 110.4 L474.6 114.6 M478.8 110.4 H470.8 C468 110.4 466.2 112.4 466.2 116" stroke="#474d5c"/>
</svg>
<div class="abs" style="left:1759px;top:100px;width:1px;height:22px;background:#343a48"></div>
<svg style="left:1766px;top:96px" width="148" height="30" viewBox="1766 96 148 30" class="ic" stroke-width="1.2">
<path d="M1780 103.2 A7.5 7.5 0 1 0 1788.7 111.9 M1786.8 116.2 L1791.8 120.6 M1785.7 100 L1780.5 108 H1783.7 L1783.2 112.8 L1788.6 105.3 H1785.2 z"/>
<circle cx="1820.9" cy="110.9" r="2.7"/>
<path d="M1818.95 103.86 L1819.35 101.32 L1822.45 101.32 L1822.85 103.86 L1824.50 104.55 L1826.58 103.04 L1828.76 105.22 L1827.25 107.30 L1827.94 108.95 L1830.48 109.35 L1830.48 112.45 L1827.94 112.85 L1827.25 114.50 L1828.76 116.58 L1826.58 118.76 L1824.50 117.25 L1822.85 117.94 L1822.45 120.48 L1819.35 120.48 L1818.95 117.94 L1817.30 117.25 L1815.22 118.76 L1813.04 116.58 L1814.55 114.50 L1813.86 112.85 L1811.32 112.45 L1811.32 109.35 L1813.86 108.95 L1814.55 107.30 L1813.04 105.22 L1815.22 103.04 L1817.30 104.55 z"/>
<path d="M1851.7 107.8 V105.2 a1.7 1.7 0 0 1 1.7 -1.7 H1856 M1862.1 103.5 H1864.7 a1.7 1.7 0 0 1 1.7 1.7 V107.8 M1866.4 114 V116.6 a1.7 1.7 0 0 1 -1.7 1.7 H1862.1 M1856 118.3 H1853.4 a1.7 1.7 0 0 1 -1.7 -1.7 V114"/>
<path d="M1887.8 104.4 H1891.6 L1892.8 102.2 H1900.2 L1901.4 104.4 H1905.2 a1.6 1.6 0 0 1 1.6 1.6 V117 a1.6 1.6 0 0 1 -1.6 1.6 H1887.8 a1.6 1.6 0 0 1 -1.6 -1.6 V106 a1.6 1.6 0 0 1 1.6 -1.6 z"/>
<circle cx="1896.5" cy="111.4" r="4.3"/>
</svg>
<svg style="left:124px;top:140px" width="20" height="20" viewBox="124 140 20 20">
<rect x="124.8" y="141.2" width="18" height="17.8" rx="3" fill="#fff"/>
<circle cx="130.8" cy="147.6" r="4.6" fill="#1b3f9c"/>
<path d="M127 146 L132 149 M128 150.6 L131 145" stroke="#e0313c" stroke-width="1.2"/>
<circle cx="136.4" cy="152.4" r="4.6" fill="#fff"/>
<circle cx="136.4" cy="152.4" r="4.2" fill="#f2d7d9"/>
<path d="M132.6 150.6 H140.2 M132.2 152.4 H140.6 M132.6 154.2 H140.2 M134 156 H138.8" stroke="#d5353f" stroke-width="0.9"/>
<path d="M132.2 152.4 a4.2 4.2 0 0 1 4.2 -4.2 V152.4 z" fill="#2c4aa8"/>
</svg>
<div class="t" style="left:147.3px;top:143.00px;font-size:15px;color:#c3c6ce;letter-spacing:0.450px;">Australian</div>
<div class="t" style="left:224.4px;top:143.00px;font-size:15px;color:#c3c6ce;letter-spacing:0.391px;">Dollar/US</div>
<div class="t" style="left:297.8px;top:143.00px;font-size:15px;color:#c3c6ce;letter-spacing:0.337px;">Dollar</div>
<div class="t" style="left:344.6px;top:143.00px;font-size:15px;color:#c3c6ce;transform:scaleX(0.6807);transform-origin:0 0;">·</div>
<div class="t" style="left:352.2px;top:143.00px;font-size:15px;color:#c3c6ce;transform:scaleX(0.9101);transform-origin:0 0;">OFF_EXCHANGE</div>
<div class="abs" style="left:480px;top:141px;width:18px;height:18px;border-radius:9px;background:#12343a"></div>
<div class="abs" style="left:484.7px;top:145.9px;width:8.4px;height:8.4px;border-radius:5px;background:#0bb48d"></div>
<div class="t" style="left:513.4px;top:144.63px;font-size:12.6px;color:#c3c6ce;transform:scaleX(0.8775);transform-origin:0 0;">O</div>
<div class="t" style="left:522.4px;top:144.63px;font-size:12.6px;color:#3b8fe8;letter-spacing:0.151px;">0.69832</div>
<div class="t" style="left:575.0px;top:144.63px;font-size:12.6px;color:#c3c6ce;transform:scaleX(0.9011);transform-origin:0 0;">H</div>
<div class="t" style="left:583.6px;top:144.63px;font-size:12.6px;color:#3b8fe8;letter-spacing:0.094px;">0.70573</div>
<div class="t" style="left:637.0px;top:144.63px;font-size:12.6px;color:#c3c6ce;transform:scaleX(0.8278);transform-origin:0 0;">L</div>
<div class="t" style="left:643.2px;top:144.63px;font-size:12.6px;color:#3b8fe8;letter-spacing:0.094px;">0.69562</div>
<div class="t" style="left:695.6px;top:144.63px;font-size:12.6px;color:#c3c6ce;transform:scaleX(0.8792);transform-origin:0 0;">C</div>
<div class="t" style="left:704.0px;top:144.63px;font-size:12.6px;color:#3b8fe8;letter-spacing:0.037px;">0.70393</div>
<div class="t" style="left:756.4px;top:144.63px;font-size:12.6px;color:#3b8fe8;transform:scaleX(0.9733);transform-origin:0 0;">+0.00124 (+0.18%)</div>
<svg style="left:62px;top:134px" width="54" height="900" viewBox="62 134 54 900" class="ic" stroke-width="1.15">
<!-- crosshair -->
<path d="M86.5 146.8 V154.8 M86.5 162.2 V170.2 M74.8 158.5 H82.8 M90.2 158.5 H98.2" stroke="#3597ea" stroke-width="1.3" stroke-linecap="butt"/>
<!-- line -->
<circle cx="77.4" cy="202.6" r="2.3"/><circle cx="94.5" cy="185.5" r="2.3"/><path d="M79.1 200.9 L92.8 187.2"/>
<!-- hlines -->
<path d="M75.2 220.4 H97 M75.2 226.4 H94.2 M75.2 232.4 H97 M77.6 238.4 H97"/><circle cx="96.4" cy="226.4" r="2.2"/><circle cx="75.4" cy="238.4" r="2.2"/>
<!-- pattern -->
<circle cx="80.2" cy="257.7" r="2.2"/><circle cx="92.4" cy="258.4" r="2.2"/><circle cx="84.3" cy="264.6" r="2.2"/><circle cx="95.7" cy="271.6" r="2.2"/><circle cx="77.4" cy="274.7" r="2.2"/>
<path d="M78 272.6 L79.8 259.9 M81.3 259.6 L83.2 262.7 M78.9 273.1 L83 266.4 M86.2 263.5 L90.5 259.6 M93 260.5 L95.1 269.5 M86.2 265.8 L93.8 270.4" stroke-width="1.05"/>
<!-- forecast -->
<circle cx="76.4" cy="294.5" r="2.2"/><circle cx="76.4" cy="304.5" r="2.2"/><circle cx="94.6" cy="304.5" r="2.2"/><circle cx="76.4" cy="310.7" r="2.2"/>
<path d="M78.6 294.5 H96.2 M78.6 304.5 H92.4 M78.6 310.7 H96.2"/>
<path d="M81.4 302.2 L93.6 296.8" stroke-dasharray="0.6 2.6" stroke-width="1.3"/>
<!-- brush -->
<path d="M74.8 346.6 C77 343 78.6 337.6 83.4 336.2 C87 335.4 89.6 338.2 89.4 341 C89.2 344.6 85.4 346.6 81.6 346.6 z M88.6 332 C88.4 334.4 90 336.6 92.4 336.4 L99.4 330.4"/>
<!-- T -->
<path d="M79 369 V365.8 H94 V369 M86.5 365.8 V382.7 M84 382.7 H89.2"/>
<!-- smiley -->
<circle cx="86" cy="409.8" r="10.7"/>
<circle cx="83.2" cy="407.8" r="0.8" fill="#d1d4dc" stroke="none"/><circle cx="88.8" cy="407.8" r="0.8" fill="#d1d4dc" stroke="none"/>
<path d="M82.6 412.4 C83.6 415.4 88.4 415.4 89.4 412.4"/>
<!-- ruler -->
<path d="M74.4 466.4 L92.9 447.2 L97.9 452.6 L79.5 470.9 z M77.6 463.2 L79.6 465.2 M80.8 460 L82.4 461.6 M84 456.6 L86 458.6 M87.2 453.4 L88.8 455 M90.4 450 L92.4 452"/>
<!-- zoom -->
<circle cx="84.3" cy="493.4" r="8.3"/><path d="M90.4 499.4 L94 503 M80.8 493.4 H87.8 M84.3 489.9 V496.9"/>
<!-- magnet -->
<path d="M78.1 552.8 V542 a7.9 7.9 0 0 1 15.8 0 V552.8 H88.9 V542 a2.9 2.9 0 0 0 -5.8 0 V552.8 z M78.1 549 H83.1 M88.9 549 H93.9"/>
<!-- pencil lock -->
<path d="M75.6 584 L76.6 579.4 L87.8 568.8 L91.2 572 L80 583 z M76.8 579.6 L79.8 582.6 M85.6 570.8 L89 574.2 M78.4 581 L88 571.8"/>
<rect x="87.4" y="583.2" width="8.8" height="6.2" rx="0.8"/><path d="M89.4 583 V581.2 a2.4 2.4 0 0 1 4.8 0 V581.6"/>
<rect x="91.3" y="585.4" width="1.1" height="1.8" fill="#d1d4dc" stroke="none"/>
<!-- lock -->
<rect x="78.1" y="614.6" width="15.8" height="11" rx="1.4"/><path d="M82.8 614.4 V611.4 a3.55 3.6 0 0 1 7.1 0 V611.2"/>
<rect x="85.4" y="618.2" width="1.3" height="3.6" fill="#d1d4dc" stroke="none"/>
<!-- eye -->
<path d="M75.9 648 C79 643.4 82 641.3 85 641.3 C88 641.3 91 643.4 94.1 648 C91 652.6 88 654.7 85 654.7 C82 654.7 79 652.6 75.9 648 z"/><circle cx="85" cy="648" r="3.3"/>
<path d="M86.6 662.8 C87.6 661.2 88.4 659.2 90.4 658.8 C92 658.6 93 659.8 92.8 661 C92.4 662.6 90.4 663 88.6 662.9 z M92.6 657.4 C92.6 658.4 93.4 659.2 94.4 659 L96.8 657.2" stroke-width="1"/>
<!-- trash -->
<path d="M77.2 695.6 H94.6 M82.6 695.4 V693.6 a1.2 1.2 0 0 1 1.2 -1.2 H88.2 a1.2 1.2 0 0 1 1.2 1.2 V695.4 M79.1 695.8 V708.8 a1.7 1.7 0 0 0 1.7 1.7 H91.1 a1.7 1.7 0 0 0 1.7 -1.7 V695.8 M84 699.2 V706.4 M88.4 699.2 V706.4"/>
<!-- layers -->
<path d="M86 999.8 L95.2 1006.4 L86 1013 L76.8 1006.4 z M77.4 1010.2 L86 1016.4 L94.6 1010.2 M77.4 1013.8 L86 1020 L94.6 1013.8"/>
<!-- small chevron -->
<path d="M111.8 973.4 Q108.4 976.6 111.8 979.8" stroke="#b0b5c0" stroke-width="1.3"/>
</svg>
<div class="abs" style="left:68px;top:434px;width:36px;height:1px;background:#343a48"></div>
<div class="abs" style="left:68px;top:519px;width:36px;height:1px;background:#343a48"></div>
<div class="abs" style="left:68px;top:676px;width:36px;height:1px;background:#343a48"></div>
<svg style="left:126px;top:968px" width="38" height="38" viewBox="126 968 38 38">
<circle cx="144.5" cy="987.1" r="16.5" fill="#131722" stroke="#3a3f4e" stroke-width="1.4"/>
<path d="M133.7 981.8 H143.3 V993.1 H138.7 V986.3 H133.7 z M151.2 993.1 H145.7 L149.8 981.8 H155.6 z" fill="#fff"/>
<circle cx="146.1" cy="984.1" r="2.1" fill="#fff"/>
</svg>
<div class="t" style="left:1863.8px;top:185.74px;font-size:12px;color:#b2b5be;transform:scaleX(0.9730);transform-origin:0 0;">0.72000</div>
<div class="t" style="left:1863.8px;top:244.31px;font-size:12px;color:#b2b5be;transform:scaleX(0.9730);transform-origin:0 0;">0.71000</div>
<div class="t" style="left:1863.8px;top:302.88px;font-size:12px;color:#b2b5be;transform:scaleX(0.9730);transform-origin:0 0;">0.70000</div>
<div class="t" style="left:1863.8px;top:361.45px;font-size:12px;color:#b2b5be;transform:scaleX(0.9730);transform-origin:0 0;">0.69000</div>
<div class="t" style="left:1863.8px;top:420.02px;font-size:12px;color:#b2b5be;transform:scaleX(0.9730);transform-origin:0 0;">0.68000</div>
<div class="t" style="left:1863.8px;top:478.59px;font-size:12px;color:#b2b5be;transform:scaleX(0.9730);transform-origin:0 0;">0.67000</div>
<div class="t" style="left:1863.8px;top:537.16px;font-size:12px;color:#b2b5be;transform:scaleX(0.9730);transform-origin:0 0;">0.66000</div>
<div class="t" style="left:1863.8px;top:595.73px;font-size:12px;color:#b2b5be;transform:scaleX(0.9730);transform-origin:0 0;">0.65000</div>
<div class="t" style="left:1863.8px;top:654.30px;font-size:12px;color:#b2b5be;transform:scaleX(0.9730);transform-origin:0 0;">0.64000</div>
<div class="t" style="left:1863.8px;top:712.87px;font-size:12px;color:#b2b5be;transform:scaleX(0.9730);transform-origin:0 0;">0.63000</div>
<div class="t" style="left:1863.8px;top:771.44px;font-size:12px;color:#b2b5be;transform:scaleX(0.9730);transform-origin:0 0;">0.62000</div>
<div class="t" style="left:1863.8px;top:830.01px;font-size:12px;color:#b2b5be;transform:scaleX(0.9730);transform-origin:0 0;">0.61000</div>
<div class="t" style="left:1863.8px;top:888.58px;font-size:12px;color:#b2b5be;transform:scaleX(0.9730);transform-origin:0 0;">0.60000</div>
<div class="t" style="left:1863.8px;top:947.15px;font-size:12px;color:#b2b5be;transform:scaleX(0.9730);transform-origin:0 0;">0.59000</div>
<div class="t" style="left:1863.8px;top:1005.72px;font-size:12px;color:#b2b5be;transform:scaleX(0.9730);transform-origin:0 0;">0.58000</div>
<div class="abs" style="left:1856px;top:277px;width:56px;height:17px;background:#3597ea;border-radius:0 3px 3px 0"></div>
<div class="t" style="left:1863.8px;top:279.64px;font-size:12px;color:#ffffff;font-weight:bold;transform:scaleX(0.9730);transform-origin:0 0;">0.70393</div>
<div class="t" style="left:205.4px;top:1023.64px;font-size:12px;color:#b2b5be;transform:scaleX(0.9800);transform-origin:0 0;">Mar</div>
<div class="t" style="left:332.4px;top:1023.64px;font-size:12px;color:#b2b5be;transform:scaleX(0.9800);transform-origin:0 0;">Apr</div>
<div class="t" style="left:462.4px;top:1023.64px;font-size:12px;color:#b2b5be;transform:scaleX(0.9800);transform-origin:0 0;">May</div>
<div class="t" style="left:596.0px;top:1023.64px;font-size:12px;color:#b2b5be;transform:scaleX(0.9800);transform-origin:0 0;">Jun</div>
<div class="t" style="left:724.0px;top:1023.64px;font-size:12px;color:#b2b5be;transform:scaleX(0.9800);transform-origin:0 0;">Jul</div>
<div class="t" style="left:859.0px;top:1023.64px;font-size:12px;color:#b2b5be;transform:scaleX(0.9800);transform-origin:0 0;">Aug</div>
<div class="t" style="left:985.0px;top:1023.64px;font-size:12px;color:#b2b5be;transform:scaleX(0.9800);transform-origin:0 0;">Sep</div>
<div class="t" style="left:1118.4px;top:1023.64px;font-size:12px;color:#b2b5be;transform:scaleX(0.9800);transform-origin:0 0;">Oct</div>
<div class="t" style="left:1255.0px;top:1023.64px;font-size:12px;color:#b2b5be;transform:scaleX(0.9800);transform-origin:0 0;">Nov</div>
<div class="t" style="left:1375.0px;top:1023.64px;font-size:12px;color:#b2b5be;transform:scaleX(0.9800);transform-origin:0 0;">Dec</div>
<div class="t" style="left:1633.4px;top:1023.64px;font-size:12px;color:#b2b5be;transform:scaleX(0.9800);transform-origin:0 0;">Feb</div>
<div class="t" style="left:1753.4px;top:1023.64px;font-size:12px;color:#b2b5be;transform:scaleX(0.9800);transform-origin:0 0;">Mar</div>
<div class="t" style="left:1841.0px;top:1023.64px;font-size:12px;color:#b2b5be;transform:scaleX(0.9800);transform-origin:0 0;">20</div>
<div class="t" style="left:1504.4px;top:1023.64px;font-size:12px;color:#d1d4dc;font-weight:bold;transform:scaleX(0.9800);transform-origin:0 0;">2026</div>
<svg style="left:1878px;top:1022px" width="18" height="18" viewBox="1878 1022 18 18" class="ic" stroke="#b2b5be" stroke-width="1.2">
<path d="M1879.8 1030.9 L1883.4 1024.6 H1890.6 L1894.2 1030.9 L1890.6 1037.2 H1883.4 z"/><circle cx="1887" cy="1030.9" r="1.9"/>
</svg>
<div class="abs" style="left:798px;top:201px;width:380px;height:600px;background:#1e222d;border-radius:6px;box-shadow:0 2px 4px rgba(0,0,0,.4);overflow:hidden"><div class="abs" style="left:0;top:68px;width:380px;height:1px;background:#434651"></div><div class="abs" style="left:0;top:109px;width:380px;height:1px;background:#434651"></div><div class="abs" style="left:0;top:470px;width:375px;height:32px;background:#2a2e39"></div><div class="abs" style="left:376px;top:111px;width:3px;height:70px;background:#434651;border-radius:2px"></div></div>
<div class="t" style="left:818.0px;top:225.71px;font-size:19.6px;color:#dfe2e8;font-weight:bold;transform:scaleX(0.9844);transform-origin:0 0;">Indicators</div>
<svg style="left:1130px;top:222px" width="28" height="28" viewBox="1130 222 28 28" class="ic" stroke="#d5d8de" stroke-width="1.3">
<path d="M1136.4 227.4 L1151.8 242.8 M1151.8 227.4 L1136.4 242.8"/></svg>
<svg style="left:814px;top:278px" width="26" height="26" viewBox="814 278 26 26" class="ic" stroke="#b2b5be" stroke-width="1.3">
<circle cx="826" cy="289.1" r="7.4"/><path d="M831.4 294.4 L835.4 298.4"/></svg>
<div class="t" style="left:845.4px;top:282.42px;font-size:16.4px;color:#50535e;transform:scaleX(0.9007);transform-origin:0 0;">Search</div>
<div class="t" style="left:830.0px;top:330.09px;font-size:11px;color:#868a95;transform:scaleX(0.9043);transform-origin:0 0;">SCRIPT NAME</div>
<div class="t" style="left:830.0px;top:360.35px;font-size:14px;color:#d5d8de;transform:scaleX(0.8991);transform-origin:0 0;">52</div>
<div class="t" style="left:849.0px;top:360.35px;font-size:14px;color:#d5d8de;transform:scaleX(0.9288);transform-origin:0 0;">Week</div>
<div class="t" style="left:886.9px;top:360.35px;font-size:14px;color:#d5d8de;letter-spacing:0.205px;">High/Low</div>
<div class="t" style="left:830.0px;top:392.35px;font-size:14px;color:#d5d8de;letter-spacing:0.109px;">Accelerator</div>
<div class="t" style="left:907.0px;top:392.35px;font-size:14px;color:#d5d8de;letter-spacing:0.166px;">Oscillator</div>
<div class="t" style="left:830.0px;top:424.35px;font-size:14px;color:#d5d8de;letter-spacing:0.314px;">Accumulation/Distribution</div>
<div class="t" style="left:830.0px;top:456.35px;font-size:14px;color:#d5d8de;letter-spacing:0.029px;">Accumulative</div>
<div class="t" style="left:918.5px;top:456.35px;font-size:14px;color:#d5d8de;transform:scaleX(0.9258);transform-origin:0 0;">Swing</div>
<div class="t" style="left:958.7px;top:456.35px;font-size:14px;color:#d5d8de;transform:scaleX(0.9987);transform-origin:0 0;">Index</div>
<div class="t" style="left:830.0px;top:488.35px;font-size:14px;color:#d5d8de;letter-spacing:0.090px;">Advance/Decline</div>
<div class="t" style="left:830.0px;top:520.35px;font-size:14px;color:#d5d8de;transform:scaleX(0.9614);transform-origin:0 0;">Arnaud</div>
<div class="t" style="left:878.2px;top:520.35px;font-size:14px;color:#d5d8de;transform:scaleX(0.9711);transform-origin:0 0;">Legoux</div>
<div class="t" style="left:926.5px;top:520.35px;font-size:14px;color:#d5d8de;transform:scaleX(0.9551);transform-origin:0 0;">Moving</div>
<div class="t" style="left:973.0px;top:520.35px;font-size:14px;color:#d5d8de;transform:scaleX(0.9482);transform-origin:0 0;">Average</div>
<div class="t" style="left:830.0px;top:552.35px;font-size:14px;color:#d5d8de;transform:scaleX(0.9691);transform-origin:0 0;">Aroon</div>
<div class="t" style="left:830.0px;top:584.35px;font-size:14px;color:#d5d8de;transform:scaleX(0.9463);transform-origin:0 0;">Average</div>
<div class="t" style="left:883.4px;top:584.35px;font-size:14px;color:#d5d8de;letter-spacing:0.260px;">Directional</div>
<div class="t" style="left:956.7px;top:584.35px;font-size:14px;color:#d5d8de;letter-spacing:0.031px;">Index</div>
<div class="t" style="left:830.0px;top:616.35px;font-size:14px;color:#d5d8de;transform:scaleX(0.9463);transform-origin:0 0;">Average</div>
<div class="t" style="left:883.4px;top:616.35px;font-size:14px;color:#d5d8de;transform:scaleX(0.9907);transform-origin:0 0;">Price</div>
<div class="t" style="left:830.0px;top:648.35px;font-size:14px;color:#d5d8de;transform:scaleX(0.9463);transform-origin:0 0;">Average</div>
<div class="t" style="left:883.4px;top:648.35px;font-size:14px;color:#d5d8de;transform:scaleX(0.9659);transform-origin:0 0;">True</div>
<div class="t" style="left:915.0px;top:648.35px;font-size:14px;color:#d5d8de;transform:scaleX(0.9115);transform-origin:0 0;">Range</div>
<div class="t" style="left:830.0px;top:680.35px;font-size:14px;color:#d5d8de;transform:scaleX(0.9426);transform-origin:0 0;">Awesome</div>
<div class="t" style="left:892.0px;top:680.35px;font-size:14px;color:#d5d8de;letter-spacing:0.146px;">Oscillator</div>
<div class="t" style="left:830.0px;top:712.35px;font-size:14px;color:#d5d8de;transform:scaleX(0.9705);transform-origin:0 0;">Balance</div>
<div class="t" style="left:883.4px;top:712.35px;font-size:14px;color:#d5d8de;transform:scaleX(0.9850);transform-origin:0 0;">of</div>
<div class="t" style="left:899.8px;top:712.35px;font-size:14px;color:#d5d8de;transform:scaleX(0.9627);transform-origin:0 0;">Power</div>
<div class="t" style="left:830.0px;top:744.35px;font-size:14px;color:#d5d8de;letter-spacing:0.136px;">Bollinger</div>
<div class="t" style="left:890.0px;top:744.35px;font-size:14px;color:#d5d8de;transform:scaleX(0.9044);transform-origin:0 0;">Bands</div>
<div class="t" style="left:830.0px;top:776.35px;font-size:14px;color:#d5d8de;letter-spacing:0.136px;">Bollinger</div>
<div class="t" style="left:890.0px;top:776.35px;font-size:14px;color:#d5d8de;transform:scaleX(0.9044);transform-origin:0 0;">Bands</div>
<div class="t" style="left:930.2px;top:776.35px;font-size:14px;color:#d5d8de;transform:scaleX(0.7665);transform-origin:0 0;">%B</div>
<div class="abs" style="left:152px;top:1052px;width:1px;height:24px;background:#363e4c"></div>
<div class="abs" style="left:294px;top:1052px;width:1px;height:24px;background:#363e4c"></div>
<div class="abs" style="left:443px;top:1052px;width:1px;height:24px;background:#363e4c"></div>
<div class="abs" style="left:627px;top:1052px;width:1px;height:24px;background:#363e4c"></div>
<div class="abs" style="left:769px;top:1052px;width:1px;height:24px;background:#363e4c"></div>
<div class="abs" style="left:897px;top:1052px;width:1px;height:24px;background:#363e4c"></div>
<div class="abs" style="left:1040px;top:1052px;width:1px;height:24px;background:#363e4c"></div>
<div class="abs" style="left:1693px;top:1052px;width:1px;height:24px;background:#363e4c"></div>
<div class="abs" style="left:1726px;top:1052px;width:1px;height:24px;background:#363e4c"></div>
<div class="abs" style="left:1759px;top:1052px;width:1px;height:24px;background:#363e4c"></div>
<div class="t" style="left:25.0px;top:1057.15px;font-size:14px;color:#d5d8de;transform:scaleX(0.9255);transform-origin:0 0;">Wrk#1</div>
<div class="t" style="left:166.5px;top:1057.15px;font-size:14px;color:#d5d8de;transform:scaleX(0.9255);transform-origin:0 0;">Wrk#1</div>
<div class="t" style="left:308.0px;top:1057.15px;font-size:14px;color:#d5d8de;letter-spacing:0.178px;">Default</div>
<div class="t" style="left:456.6px;top:1057.15px;font-size:14px;color:#d5d8de;transform:scaleX(0.9986);transform-origin:0 0;">Option Chain</div>
<div class="t" style="left:641.0px;top:1057.15px;font-size:14px;color:#3294f5;transform:scaleX(0.9504);transform-origin:0 0;">Wrk#3</div>
<div class="t" style="left:782.6px;top:1057.15px;font-size:14px;color:#d5d8de;transform:scaleX(0.9831);transform-origin:0 0;">Grid</div>
<div class="t" style="left:912.0px;top:1057.15px;font-size:14px;color:#d5d8de;transform:scaleX(0.9355);transform-origin:0 0;">Wrk#2</div>
<div class="t" style="left:1782.4px;top:1058.10px;font-size:12.4px;color:#d5d8de;transform:scaleX(0.9392);transform-origin:0 0;">19:22:53 (UTC+01:00)</div>
<svg style="left:684px;top:1052px" width="80" height="24" viewBox="684 1052 80 24" class="ic" stroke="#e6e8ee" stroke-width="1.2">
<rect x="690.6" y="1064.3" width="10.9" height="5.9" rx="1.3"/><path d="M692 1060.4 C693 1058.9 694.4 1058.6 695.6 1058.6 C697.6 1058.6 700.6 1059.8 700.6 1061.6 V1064.2"/><rect x="695.2" y="1066.3" width="1.6" height="1.6" fill="#d1d4dc" stroke="none"/>
<path d="M714.4 1061.2 H725.4 M714.4 1064.5 H725.4 M714.4 1067.9 H725.4"/>
<path d="M738.3 1058.6 L749.5 1069.8 M749.5 1058.6 L738.3 1069.8"/>
</svg>
<svg style="left:1055px;top:1052px" width="22" height="24" viewBox="1055 1052 22 24" class="ic" stroke="#e6e8ee" stroke-width="1.2">
<path d="M1058.4 1064.3 H1072.8 M1065.6 1057 V1071.6"/></svg>
<svg style="left:1700px;top:1052px" width="56" height="24" viewBox="1700 1052 56 24" class="ic" stroke="#e6e8ee" stroke-width="1.2">
<rect x="1704.6" y="1063.8" width="10.8" height="6.6" rx="1.5" stroke-width="1.3"/><path d="M1706.4 1059.7 C1707.5 1058.4 1709 1058.1 1710.2 1058.1 C1712.2 1058.1 1713.6 1059.4 1713.6 1061.2 V1063.6" stroke-width="1.3"/><rect x="1709" y="1066.1" width="2" height="2" fill="#d1d4dc" stroke="none"/>
<rect x="1736.8" y="1056.9" width="11.5" height="14.6" rx="1.6" stroke-width="1.4"/><path d="M1739.2 1059.5 H1745.8 M1739.2 1061.5 H1745.8 M1739.2 1063.6 H1745.8 M1739.8 1069.4 L1742.5 1065.8 L1745.2 1069.4 z" stroke-width="1"/>
</svg>
</body></html>
